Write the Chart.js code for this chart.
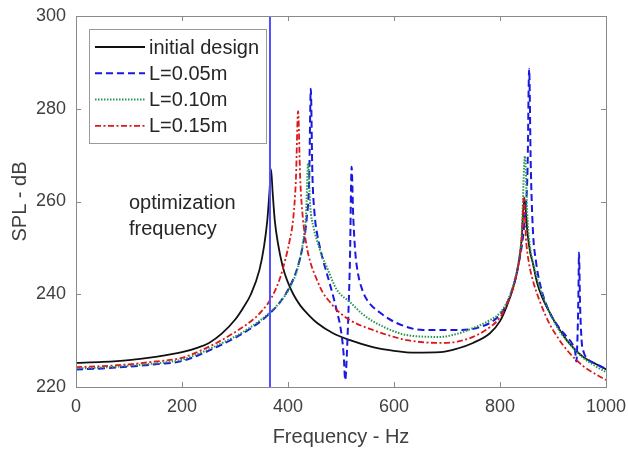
<!DOCTYPE html>
<html>
<head>
<meta charset="utf-8">
<script src="https://cdn.jsdelivr.net/npm/chart.js@4.4.1/dist/chart.umd.min.js"></script>
<style>
  html, body { margin: 0; padding: 0; background: #ffffff; }
  #wrap { width: 628px; height: 449px; position: relative; }
</style>
</head>
<body>
<div id="wrap"><canvas id="c" width="628" height="449"></canvas></div>
<script>
// ---------- data ----------
const xTicks = [0, 200, 400, 600, 800, 1000];
const yTicks = [220, 240, 260, 280, 300];
const optimizationFreq = 366;

const seriesNames = ["initial design", "L=0.05m", "L=0.10m", "L=0.15m"];

const freqInitial = [0, 50, 100, 150, 200, 230, 251, 275, 300, 315, 330, 346, 355, 361, 365, 368, 371, 375, 381, 390, 398, 410, 423, 440, 455, 485, 517, 560, 600, 640, 687, 720, 749, 781, 800, 813, 825, 835, 841, 846, 852, 857, 862, 870, 880, 894, 910, 926, 940, 957, 980, 1000];
const splInitial  = [225.2, 225.4, 225.8, 226.5, 227.5, 228.5, 229.5, 231.5, 234.5, 237.0, 240.0, 245.2, 250.5, 256.0, 262.0, 267.0, 262.0, 256.0, 251.0, 246.0, 243.1, 240.0, 237.6, 235.4, 233.8, 231.6, 230.1, 228.6, 227.8, 227.4, 227.5, 228.3, 229.5, 231.6, 234.2, 237.5, 241.5, 246.5, 252.0, 260.8, 253.0, 249.0, 246.7, 242.5, 239.2, 236.0, 232.8, 230.1, 228.3, 226.5, 225.0, 223.8];

const freqL005 = [0, 50, 100, 150, 200, 234, 265, 297, 328, 360, 385, 404, 418, 428, 435, 440, 443, 446, 450, 455, 460, 467, 473, 480, 487, 493, 498, 502, 505, 508, 511, 514, 517, 520, 523, 527, 532, 540, 549, 574, 605, 655, 718, 762, 800, 815, 826, 835, 843, 848, 852, 855, 858, 862, 868, 876, 890, 907, 926, 937, 942, 944, 946, 948, 949, 951, 954, 958, 964, 980, 1000];
const splL005  = [223.8, 224.0, 224.4, 224.9, 225.6, 227.0, 228.6, 230.4, 232.5, 235.3, 238.3, 241.8, 245.8, 250.5, 256.0, 265.0, 284.3, 266.0, 257.5, 253.0, 250.2, 247.0, 244.6, 241.8, 238.8, 236.0, 233.5, 230.5, 227.0, 221.5, 227.0, 236.0, 248.0, 267.5, 257.0, 249.0, 244.5, 241.0, 238.8, 236.0, 233.8, 232.3, 232.3, 232.9, 235.6, 238.5, 242.0, 246.5, 252.0, 258.0, 267.0, 288.6, 268.0, 254.0, 247.0, 242.0, 237.0, 233.5, 230.8, 229.2, 227.5, 225.5, 230.0, 240.0, 249.0, 238.0, 230.0, 227.5, 226.2, 225.0, 223.9];

const freqL010 = [0, 50, 100, 150, 200, 234, 265, 297, 328, 360, 385, 404, 418, 428, 434, 438, 442, 448, 455, 465, 473, 492, 517, 540, 560, 600, 624, 687, 720, 749, 781, 800, 813, 825, 835, 841, 847, 852, 857, 862, 875, 894, 910, 926, 957, 980, 1000];
const splL010  = [224.0, 224.2, 224.6, 225.1, 225.9, 227.3, 228.9, 230.7, 232.8, 235.5, 238.3, 241.6, 245.5, 251.0, 257.0, 268.3, 259.0, 254.5, 251.5, 248.0, 245.9, 241.0, 238.3, 235.8, 234.2, 232.0, 231.2, 230.8, 231.5, 232.7, 234.4, 236.0, 238.3, 242.0, 247.0, 253.0, 269.8, 256.0, 250.0, 247.0, 241.5, 236.0, 232.5, 230.0, 226.3, 224.5, 223.2];

const freqL015 = [0, 50, 100, 150, 200, 234, 265, 297, 328, 350, 370, 385, 395, 403, 410, 415, 419, 423, 428, 435, 442, 455, 466, 480, 492, 517, 560, 600, 624, 687, 720, 749, 781, 800, 813, 825, 835, 841, 845, 849, 855, 862, 875, 894, 910, 926, 957, 980, 1000];
const splL015  = [224.3, 224.5, 224.9, 225.5, 226.3, 227.8, 229.5, 231.6, 234.0, 236.3, 239.5, 243.5, 247.5, 251.5, 256.5, 265.0, 279.5, 265.0, 256.5, 250.5, 247.0, 243.0, 240.3, 238.2, 236.6, 234.4, 232.3, 230.8, 230.1, 229.5, 229.8, 230.8, 232.9, 235.0, 237.8, 241.5, 246.5, 252.0, 261.0, 252.0, 246.5, 243.0, 238.5, 233.5, 230.5, 228.0, 224.5, 222.8, 221.5];

// ---------- helpers ----------
function pts(xs, ys) { return xs.map((x, i) => ({ x: x, y: ys[i] })); }

const TEXT = '#404040';
const AXIS = '#8a8a8a';
const FONT = "'Liberation Sans', Arial, Helvetica, sans-serif";

const datasets = [
  { label: seriesNames[0], data: pts(freqInitial, splInitial), borderColor: '#111111', borderWidth: 1.8, borderDash: [], order: 4 },
  { label: seriesNames[1], data: pts(freqL005, splL005), borderColor: 'rgb(25,25,225)', borderWidth: 2, borderDash: [7, 4], order: 3 },
  { label: seriesNames[2], data: pts(freqL010, splL010), borderColor: 'rgb(40,150,80)', borderWidth: 2, borderDash: [1.5, 1.5], order: 2 },
  { label: seriesNames[3], data: pts(freqL015, splL015), borderColor: 'rgb(220,25,25)', borderWidth: 1.8, borderDash: [6, 2.5, 2, 2.5], order: 1 },
  { label: 'optim', data: [{ x: optimizationFreq, y: yTicks[0] }, { x: optimizationFreq, y: yTicks[yTicks.length - 1] }], borderColor: 'rgb(80,80,255)', borderWidth: 2, borderDash: [], order: 0, isMarker: true }
];
datasets.forEach(d => {
  d.pointRadius = 0;
  d.pointHoverRadius = 0;
  d.fill = false;
  d.cubicInterpolationMode = 'monotone';
  d.backgroundColor = d.borderColor;
});

// box + inward ticks + annotation + legend
const boxPlugin = {
  id: 'box',
  afterDatasetsDraw(chart) {
    const ctx = chart.ctx, a = chart.chartArea;
    const xs = chart.scales.x, ys = chart.scales.y;
    ctx.save();
    ctx.strokeStyle = AXIS;
    ctx.lineWidth = 1;
    ctx.setLineDash([]);
    ctx.strokeRect(Math.round(a.left) + 0.5, Math.round(a.top) + 0.5, Math.round(a.right - a.left), Math.round(a.bottom - a.top));
    const L = 5;
    ctx.beginPath();
    xTicks.forEach(v => {
      const px = Math.round(xs.getPixelForValue(v)) + 0.5;
      ctx.moveTo(px, a.bottom); ctx.lineTo(px, a.bottom - L);
      ctx.moveTo(px, a.top); ctx.lineTo(px, a.top + L);
    });
    yTicks.forEach(v => {
      const py = Math.round(ys.getPixelForValue(v)) + 0.5;
      ctx.moveTo(a.left, py); ctx.lineTo(a.left + L, py);
      ctx.moveTo(a.right, py); ctx.lineTo(a.right - L, py);
    });
    ctx.stroke();

    ctx.fillStyle = '#262626';
    ctx.font = '20px ' + FONT;
    ctx.textAlign = 'left';
    ctx.textBaseline = 'middle';
    const tx = xs.getPixelForValue(100);
    ctx.fillText('optimization', tx, ys.getPixelForValue(259.5));
    ctx.fillText('frequency', tx, ys.getPixelForValue(253.9));

    const lx = a.left + 13, ly = a.top + 13, lw = 177, lh = 114;
    ctx.fillStyle = '#ffffff';
    ctx.fillRect(lx, ly, lw, lh);
    ctx.strokeStyle = '#9a9a9a';
    ctx.strokeRect(Math.round(lx) + 0.5, Math.round(ly) + 0.5, lw, lh);
    const rowH = 26.3;
    chart.data.datasets.forEach((d, i) => {
      if (d.isMarker) return;
      const cy = ly + 18 + i * rowH;
      ctx.save();
      ctx.strokeStyle = d.borderColor;
      ctx.lineWidth = d.borderWidth;
      ctx.setLineDash(d.borderDash || []);
      ctx.beginPath();
      ctx.moveTo(lx + 6, cy);
      ctx.lineTo(lx + 56, cy);
      ctx.stroke();
      ctx.restore();
      ctx.fillStyle = '#262626';
      ctx.font = '20px ' + FONT;
      ctx.textBaseline = 'middle';
      ctx.fillText(d.label, lx + 60, cy + 1);
    });
    ctx.restore();
  }
};

new Chart(document.getElementById('c'), {
  type: 'line',
  data: { datasets: datasets },
  options: {
    responsive: false,
    animation: false,
    devicePixelRatio: 1,
    layout: { padding: { top: 16, right: 22, left: 0, bottom: 0 } },
    plugins: { legend: { display: false }, tooltip: { enabled: false } },
    scales: {
      x: {
        type: 'linear',
        min: 0, max: 1000,
        afterBuildTicks(s) { s.ticks = xTicks.map(v => ({ value: v })); },
        afterFit(s) { s.height = 62; s.paddingLeft = 0; s.paddingRight = 0; },
        grid: { display: false, drawTicks: false },
        border: { display: false },
        ticks: { padding: 9, color: TEXT, font: { family: FONT, size: 18 }, maxRotation: 0, callback: v => String(v) },
        title: { display: true, text: 'Frequency - Hz', color: TEXT, font: { family: FONT, size: 20 }, padding: { top: 0, bottom: 0 } }
      },
      y: {
        type: 'linear',
        min: 220, max: 300,
        afterBuildTicks(s) { s.ticks = yTicks.map(v => ({ value: v })); },
        afterFit(s) { s.width = 76; s.paddingTop = 0; s.paddingBottom = 0; },
        grid: { display: false, drawTicks: false },
        border: { display: false },
        ticks: { padding: 10, color: TEXT, font: { family: FONT, size: 18 }, callback: v => String(v) },
        title: { display: true, text: 'SPL - dB', color: TEXT, font: { family: FONT, size: 20 }, padding: { top: 8, bottom: 8 } }
      }
    }
  },
  plugins: [boxPlugin]
});
</script>
</body>
</html>
